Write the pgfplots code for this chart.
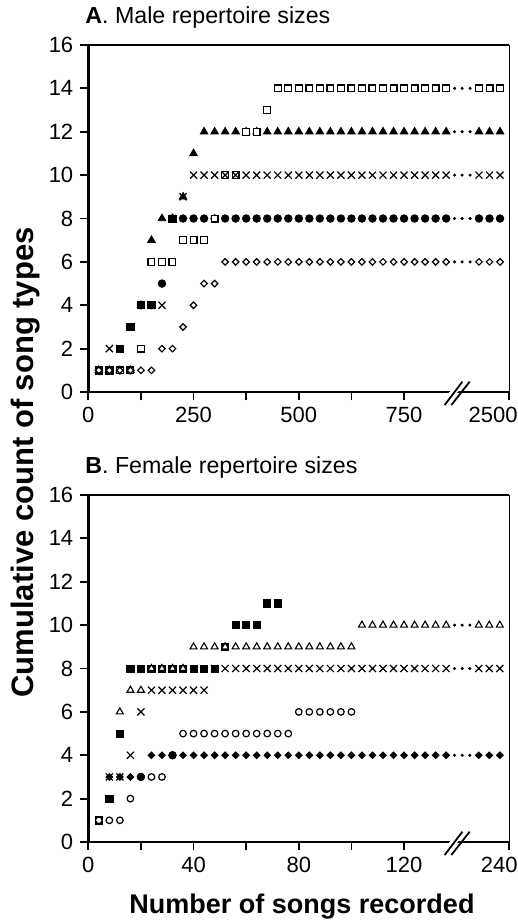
\documentclass[border=0pt]{standalone}
\usepackage{fontspec}
\setmainfont{Liberation Sans}
\usepackage{pgfplots}
\pgfplotsset{compat=1.18}
\begin{document}
\begin{tikzpicture}
\useasboundingbox (0,0) rectangle (259pt,-461.5pt);
\pgfplotsset{
 panel/.style={
  at={(44.15pt,#1)}, anchor=south west, scale only axis, width=210.5pt, height=173.5pt,
  axis lines=left, axis line style={-, line width=1.3pt, black},
  tick align=outside, major tick length=4pt, tick style={line width=0.9pt, black},
  ymin=0, ymax=16, ytick={0,2,...,16}, minor tick num=0,
  tick label style={font=\fontsize{11}{13}\selectfont},
  /pgf/number format/assume math mode=true,
  extra tick style={xticklabel style={anchor=north east, inner xsep=0pt, xshift=4.35pt}},
  clip=false,
 },
 fcirc/.style={only marks, mark=*, mark size=1.9pt, mark options={fill=black, draw=black}},
 ftri/.style={only marks, mark=triangle*, mark size=2.2pt, mark options={fill=black, draw=black}},
 osq/.style={only marks, mark=square*, mark size=1.7pt, mark options={fill=white, draw=black, line width=0.6pt}},
 xmk/.style={only marks, mark=x, mark size=2.5pt, mark options={draw=black, line width=0.6pt}},
 fsq/.style={only marks, mark=square*, mark size=1.8pt, mark options={fill=black, draw=black}},
 odia/.style={only marks, mark=square*, mark size=1.15pt, mark options={rotate=45, fill=white, draw=black, line width=0.6pt}},
 fdia/.style={only marks, mark=square*, mark size=1.2pt, mark options={rotate=45, fill=black, draw=black}},
 otri/.style={only marks, mark=triangle*, mark size=2.0pt, mark options={fill=white, draw=black, line width=0.55pt}},
 ocirc/.style={only marks, mark=*, mark size=1.65pt, mark options={fill=white, draw=black, line width=0.6pt}},
 dots/.style={only marks, mark=*, mark size=0.55pt, mark options={fill=black, draw=black}},
}

% ---------------- Panel A ----------------
\begin{axis}[panel={-196pt},
  xmin=0, xmax=1000,
  xtick={0,125,250,375,500,625,750},
  xticklabels={0,,250,,500,,750},
  extra x ticks={1000}, extra x tick labels={2500}]
% filled circles
\addplot[fcirc] coordinates {(25,1)(50,1)(75,1)(100,1)(125,4)(150,4)(175,5)(200,8)(225,8)(250,8)(275,8)(300,8)(325,8)(350,8)(375,8)(400,8)(425,8)(450,8)(475,8)(500,8)(525,8)(550,8)(575,8)(600,8)(625,8)(650,8)(675,8)(700,8)(725,8)(750,8)(775,8)(800,8)(825,8)(850,8)(928,8)(953,8)(978,8)};
% filled triangles
\addplot[ftri] coordinates {(25,1)(50,1)(75,1)(100,1)(125,4)(150,7)(175,8)(200,8)(225,9)(250,11)(275,12)(300,12)(325,12)(350,12)(375,12)(400,12)(425,12)(450,12)(475,12)(500,12)(525,12)(550,12)(575,12)(600,12)(625,12)(650,12)(675,12)(700,12)(725,12)(750,12)(775,12)(800,12)(825,12)(850,12)(928,12)(953,12)(978,12)};
% open squares
\addplot[osq] coordinates {(25,1)(50,1)(75,1)(100,1)(125,2)(150,6)(175,6)(200,6)(225,7)(250,7)(275,7)(300,8)(325,10)(350,10)(375,12)(400,12)(425,13)(450,14)(475,14)(500,14)(525,14)(550,14)(575,14)(600,14)(625,14)(650,14)(675,14)(700,14)(725,14)(750,14)(775,14)(800,14)(825,14)(850,14)(928,14)(953,14)(978,14)};
% crosses
\addplot[xmk] coordinates {(25,1)(50,2)(75,2)(100,3)(125,4)(150,4)(175,4)(200,8)(225,9)(250,10)(275,10)(300,10)(325,10)(350,10)(375,10)(400,10)(425,10)(450,10)(475,10)(500,10)(525,10)(550,10)(575,10)(600,10)(625,10)(650,10)(675,10)(700,10)(725,10)(750,10)(775,10)(800,10)(825,10)(850,10)(928,10)(953,10)(978,10)};
% filled squares
\addplot[fsq] coordinates {(25,1)(50,1)(75,2)(100,3)(125,4)(150,4)(200,8)};
% open diamonds
\addplot[odia] coordinates {(25,1)(50,1)(75,1)(100,1)(125,1)(150,1)(175,2)(200,2)(225,3)(250,4)(275,5)(300,5)(325,6)(350,6)(375,6)(400,6)(425,6)(450,6)(475,6)(500,6)(525,6)(550,6)(575,6)(600,6)(625,6)(650,6)(675,6)(700,6)(725,6)(750,6)(775,6)(800,6)(825,6)(850,6)(928,6)(953,6)(978,6)};
% continuation dots
\addplot[dots] coordinates {(870,14)(888,14)(907,14)(870,12)(888,12)(907,12)(870,10)(888,10)(907,10)(870,8)(888,8)(907,8)(870,6)(888,6)(907,6)};
% frame
\draw[line width=1.1pt] (rel axis cs:0,1) -- (rel axis cs:1,1);
\draw[line width=0.7pt] (rel axis cs:1,0) -- (rel axis cs:1,1);
% axis break
\fill[white] ([shift={(-4.5pt,-1pt)}]axis cs:875,0) -- ([shift={(-0.5pt,-1pt)}]axis cs:875,0) -- ([shift={(1.5pt,1pt)}]axis cs:875,0) -- ([shift={(-2.5pt,1pt)}]axis cs:875,0) -- cycle;
\draw[line width=0.9pt] ([shift={(-6pt,-6.5pt)}]axis cs:875,0) -- ([shift={(2.85pt,5.15pt)}]axis cs:875,0);
\draw[line width=0.9pt] ([shift={(-2.65pt,-6.5pt)}]axis cs:875,0) -- ([shift={(6.5pt,5.15pt)}]axis cs:875,0);
\end{axis}

% ---------------- Panel B ----------------
\begin{axis}[panel={-421pt},
  xmin=0, xmax=160,
  xtick={0,20,40,60,80,100,120},
  xticklabels={0,,40,,80,,120},
  extra x ticks={160}, extra x tick labels={240}]
% filled diamonds
\addplot[fdia] coordinates {(4,1)(8,3)(12,3)(16,3)(20,3)(24,4)(28,4)(32,4)(36,4)(40,4)(44,4)(48,4)(52,4)(56,4)(60,4)(64,4)(68,4)(72,4)(76,4)(80,4)(84,4)(88,4)(92,4)(96,4)(100,4)(104,4)(108,4)(112,4)(116,4)(120,4)(124,4)(128,4)(132,4)(136,4)(148.4,4)(152.4,4)(156.4,4)};
% crosses
\addplot[xmk] coordinates {(4,1)(8,3)(12,3)(16,4)(20,6)(24,7)(28,7)(32,7)(36,7)(40,7)(44,7)(48,8)(52,8)(56,8)(60,8)(64,8)(68,8)(72,8)(76,8)(80,8)(84,8)(88,8)(92,8)(96,8)(100,8)(104,8)(108,8)(112,8)(116,8)(120,8)(124,8)(128,8)(132,8)(136,8)(148.4,8)(152.4,8)(156.4,8)};
% filled squares
\addplot[fsq] coordinates {(4,1)(8,2)(12,5)(16,8)(20,8)(24,8)(28,8)(32,8)(36,8)(40,8)(44,8)(48,8)(52,9)(56,10)(60,10)(64,10)(68,11)(72,11)};
% open triangles
\addplot[otri] coordinates {(12,6)(16,7)(20,7)(24,8)(28,8)(32,8)(36,8)(40,9)(44,9)(48,9)(52,9)(56,9)(60,9)(64,9)(68,9)(72,9)(76,9)(80,9)(84,9)(88,9)(92,9)(96,9)(100,9)(104,10)(108,10)(112,10)(116,10)(120,10)(124,10)(128,10)(132,10)(136,10)(148.4,10)(152.4,10)(156.4,10)};
% open circles
\addplot[ocirc] coordinates {(4,1)(8,1)(12,1)(16,2)(20,3)(24,3)(28,3)(32,4)(36,5)(40,5)(44,5)(48,5)(52,5)(56,5)(60,5)(64,5)(68,5)(72,5)(76,5)(80,6)(84,6)(88,6)(92,6)(96,6)(100,6)};
% filled circles
\addplot[fcirc] coordinates {(20,3)(32,4)};
% continuation dots
\addplot[dots] coordinates {(139.2,10)(142.1,10)(145.0,10)(139.2,8)(142.1,8)(145.0,8)(139.2,4)(142.1,4)(145.0,4)};
\draw[line width=1.1pt] (rel axis cs:0,1) -- (rel axis cs:1,1);
\draw[line width=0.7pt] (rel axis cs:1,0) -- (rel axis cs:1,1);
\fill[white] ([shift={(-4.5pt,-1pt)}]axis cs:140,0) -- ([shift={(-0.5pt,-1pt)}]axis cs:140,0) -- ([shift={(1.5pt,1pt)}]axis cs:140,0) -- ([shift={(-2.5pt,1pt)}]axis cs:140,0) -- cycle;
\draw[line width=0.9pt] ([shift={(-6pt,-6.5pt)}]axis cs:140,0) -- ([shift={(2.85pt,5.15pt)}]axis cs:140,0);
\draw[line width=0.9pt] ([shift={(-2.65pt,-6.5pt)}]axis cs:140,0) -- ([shift={(6.5pt,5.15pt)}]axis cs:140,0);
\end{axis}

% titles and labels
\node[anchor=base west, inner sep=0pt, font=\fontsize{11.6}{14}\selectfont] at (42.5pt,-11.5pt) {\textbf{A}. Male repertoire sizes};
\node[anchor=base west, inner sep=0pt, font=\fontsize{11.6}{14}\selectfont] at (42.5pt,-236.5pt) {\textbf{B}. Female repertoire sizes};
\node[anchor=base, inner sep=0pt, font=\bfseries\fontsize{13.5}{16}\selectfont] at (151pt,-456.5pt) {Number of songs recorded};
\node[anchor=base, rotate=90, inner sep=0pt, font=\bfseries\fontsize{15.5}{18}\selectfont] at (16.8pt,-231.25pt) {Cumulative count of song types};
\end{tikzpicture}
\end{document}
